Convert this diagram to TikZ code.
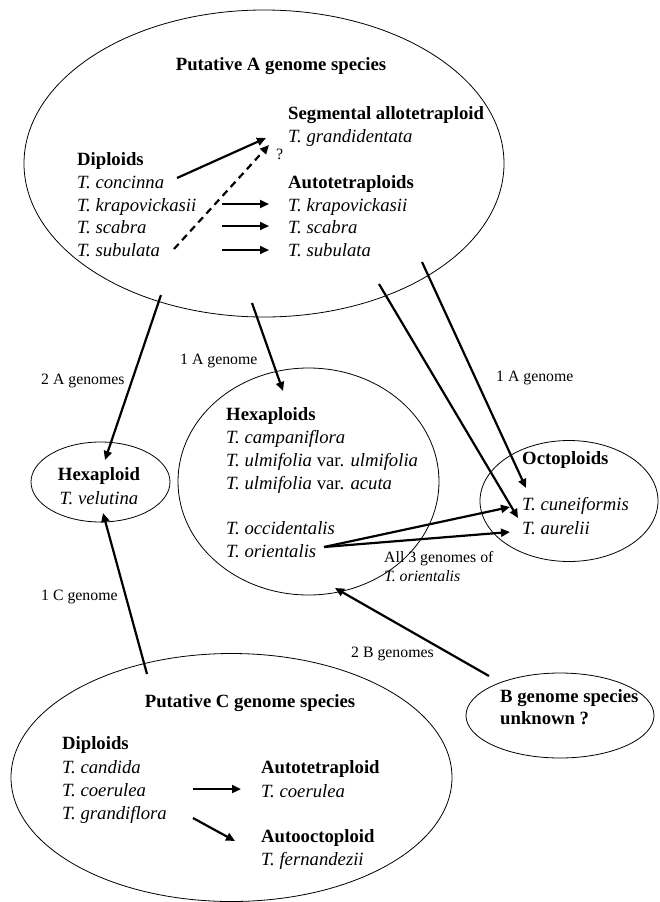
\documentclass[tikz,border=0pt]{standalone}
\usepackage{fontspec}
\setmainfont{Liberation Serif}
\usetikzlibrary{shapes.geometric,arrows.meta}
\begin{document}
\begin{tikzpicture}[x=1pt,y=-1pt,
  oval/.style={draw,ellipse,line width=0.8pt,inner sep=0pt},
  txt/.style={anchor=base west,inner sep=0pt,font=\fontsize{18.7}{22.5}\selectfont},
  ctxt/.style={anchor=base,inner sep=0pt,font=\fontsize{18.7}{22.5}\selectfont},
  lbl/.style={anchor=base west,inner sep=0pt,font=\fontsize{15.8}{19}\selectfont},
  arr/.style={line width=2.2pt,-{Triangle[length=9pt,width=8pt]}},
  darr/.style={arr,dash pattern=on 7pt off 5pt}]
\useasboundingbox (0,0) rectangle (660,902);
% ellipses
\node[oval,minimum width=480pt,minimum height=307pt] (A) at (264,163.5) {};
\node[oval,minimum width=139pt,minimum height=80pt] (H6) at (100.5,482) {};
\node[oval,minimum width=261pt,minimum height=227pt] (Hx) at (308.5,481.5) {};
\node[oval,minimum width=178pt,minimum height=121pt] (O) at (569,501) {};
\node[oval,minimum width=188pt,minimum height=85pt] (B) at (560,715.5) {};
\node[oval,minimum width=441pt,minimum height=248pt] (C) at (231.5,777.5) {};
% A texts
\node[ctxt] (Atitle) at (281,70.5) {\textbf{Putative A genome species}};
\node[txt] (seg) at (288,119.5) {\textbf{Segmental allotetraploid}};
\node[txt] (grand) at (288,142.5) {\textit{T. grandidentata}};
\node[txt] (dip) at (77,165.5) {\textbf{Diploids}};
\node[txt] (conc) at (77,188.5) {\textit{T. concinna}};
\node[txt] (krap) at (77,211) {\textit{T. krapovickasii}};
\node[txt] (scab) at (77,233.5) {\textit{T. scabra}};
\node[txt] (subu) at (77,256) {\textit{T. subulata}};
\node[txt] (auto) at (288,188.5) {\textbf{Autotetraploids}};
\node[txt] (akrap) at (288,211) {\textit{T. krapovickasii}};
\node[txt] (ascab) at (288,233.5) {\textit{T. scabra}};
\node[txt] (asubu) at (288,256) {\textit{T. subulata}};
\node[lbl] (q) at (276,159.5) {?};
% Hexaploid
\node[ctxt] (h6t) at (99,480.5) {\textbf{Hexaploid}};
\node[ctxt] (velu) at (99,504.5) {\textit{T. velutina}};
% Hexaploids
\node[txt] (hxt) at (226,420.5) {\textbf{Hexaploids}};
\node[txt] (camp) at (226,443.5) {\textit{T. campaniflora}};
\node[txt] (ulm1) at (226,466.5) {\textit{T. ulmifolia} var. \textit{ulmifolia}};
\node[txt] (ulm2) at (226,489.5) {\textit{T. ulmifolia} var. \textit{acuta}};
\node[txt] (occi) at (226,534.5) {\textit{T. occidentalis}};
\node[txt] (orie) at (226,557) {\textit{T. orientalis}};
% Octoploids
\node[txt] (ot) at (522,464.5) {\textbf{Octoploids}};
\node[txt] (cune) at (522,510.5) {\textit{T. cuneiformis}};
\node[txt] (aure) at (522,534) {\textit{T. aurelii}};
% B
\node[txt] (b1) at (500,702.5) {\textbf{B genome species}};
\node[txt] (b2) at (500,724.5) {\textbf{unknown ?}};
% C
\node[ctxt] (Ctitle) at (250,707.5) {\textbf{Putative C genome species}};
\node[txt] (cdip) at (62,749.5) {\textbf{Diploids}};
\node[txt] (cand) at (62,773) {\textit{T. candida}};
\node[txt] (coer) at (62,796) {\textit{T. coerulea}};
\node[txt] (gfl) at (62,819) {\textit{T. grandiflora}};
\node[txt] (cauto) at (261,773) {\textbf{Autotetraploid}};
\node[txt] (ccoer) at (261,797) {\textit{T. coerulea}};
\node[txt] (cocto) at (261,842) {\textbf{Autooctoploid}};
\node[txt] (fern) at (261,865) {\textit{T. fernandezii}};
% labels
\node[lbl] (l2A) at (41,384.5) {2 A genomes};
\node[lbl] (l1A) at (180,364.5) {1 A genome};
\node[lbl] (l1Ar) at (496,381.5) {1 A genome};
\node[lbl] (lall) at (384,562.5) {All 3 genomes of};
\node[lbl] (lori) at (384,581.5) {\textit{T. orientalis}};
\node[lbl] (l1C) at (41,600.5) {1 C genome};
\node[lbl] (l2B) at (351,657.5) {2 B genomes};
% coordinates
\coordinate (a1s) at (177,178); \coordinate (a1e) at (266,138);
\coordinate (a2s) at (174,249); \coordinate (a2e) at (269,145);
\coordinate (k1) at (222,204); \coordinate (k2) at (269,204);
\coordinate (s1) at (222,226); \coordinate (s2) at (269,226);
\coordinate (u1) at (222,250); \coordinate (u2) at (269,250);
\coordinate (e1s) at (161,295); \coordinate (e1e) at (105,460);
\coordinate (e2s) at (252,303); \coordinate (e2e) at (283,391);
\coordinate (e3s) at (379,284); \coordinate (e3e) at (518,518);
\coordinate (e4s) at (422,262); \coordinate (e4e) at (526,488);
\coordinate (os) at (324,547); \coordinate (oe1) at (510,507); \coordinate (oe2) at (510,532);
\coordinate (cs) at (147,674); \coordinate (ce) at (103,513);
\coordinate (bs) at (489,676); \coordinate (be) at (335,588);
\coordinate (c1s) at (193,789); \coordinate (c1e) at (241,789);
\coordinate (c2s) at (193,818); \coordinate (c2e) at (235,841);
% arrows
\draw[arr] (a1s) -- (a1e);
\draw[darr] (a2s) -- (a2e);
\draw[arr] (k1) -- (k2);
\draw[arr] (s1) -- (s2);
\draw[arr] (u1) -- (u2);
\draw[arr] (e1s) -- (e1e);
\draw[arr] (e2s) -- (e2e);
\draw[arr] (e3s) -- (e3e);
\draw[arr] (e4s) -- (e4e);
\draw[arr] (os) -- (oe1);
\draw[arr] (os) -- (oe2);
\draw[arr] (cs) -- (ce);
\draw[arr] (bs) -- (be);
\draw[arr] (c1s) -- (c1e);
\draw[arr] (c2s) -- (c2e);
\end{tikzpicture}
\end{document}
